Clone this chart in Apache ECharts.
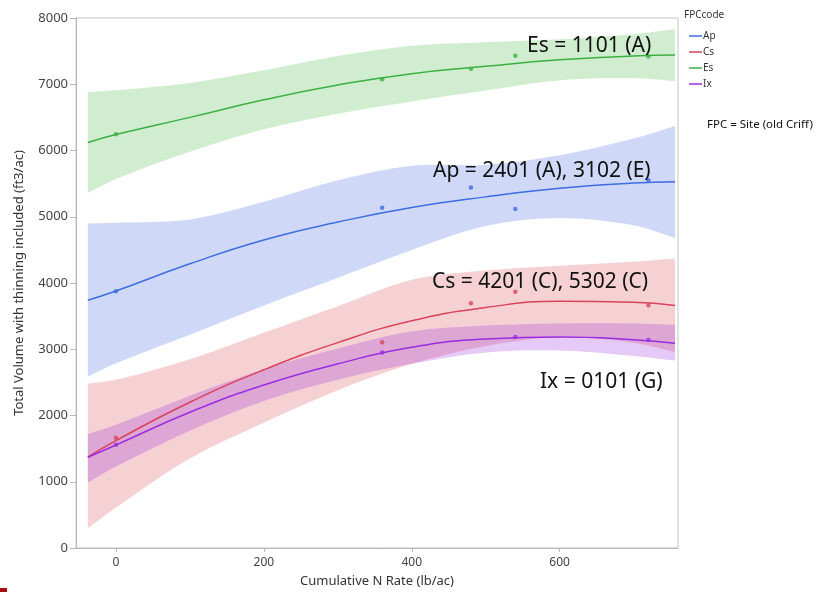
<!DOCTYPE html>
<html>
<head>
<meta charset="utf-8">
<script src="https://cdn.jsdelivr.net/npm/echarts@6.0.0/dist/echarts.min.js"></script>
<style>
  html, body { margin: 0; padding: 0; background: #fff; }
  #chart { width: 819px; height: 592px; }
</style>
</head>
<body>
<div id="chart"></div>
<script>
// x positions where the fitted curves / bands were read
const fitX = [-38, 0, 100, 200, 300, 400, 500, 600, 700, 756];

// Ap
const apFit  = [3740, 3880, 4290, 4650, 4920, 5140, 5300, 5430, 5510, 5530];
const apHigh = [4900, 4910, 4960, 5225, 5550, 5770, 5785, 5930, 6180, 6370];
const apLow  = [2590, 2790, 3220, 3660, 4080, 4500, 4860, 4980, 4870, 4680];
const apX = [0, 360, 480, 540, 720];
const apY = [3875, 5135, 5440, 5117, 5550];

// Cs
const csFit  = [1370, 1620, 2200, 2690, 3100, 3430, 3630, 3725, 3710, 3660];
const csHigh = [2480, 2540, 2850, 3250, 3650, 4050, 4190, 4260, 4320, 4370];
const csLow  = [300, 610, 1350, 1890, 2380, 2780, 3050, 3180, 3100, 2960];
const csX = [0, 360, 480, 540, 720];
const csY = [1665, 3105, 3693, 3869, 3663];

// Es
const esFit  = [6120, 6240, 6500, 6765, 6990, 7160, 7270, 7370, 7425, 7440];
const esHigh = [6880, 6910, 7020, 7210, 7425, 7580, 7635, 7680, 7755, 7835];
const esLow  = [5360, 5570, 5980, 6320, 6555, 6740, 6905, 7060, 7095, 7045];
const esX = [0, 360, 480, 540, 720];
const esY = [6245, 7075, 7235, 7430, 7420];

// Ix
const ixFit  = [1370, 1555, 2050, 2460, 2780, 3030, 3155, 3185, 3145, 3090];
const ixHigh = [1720, 1860, 2300, 2700, 3010, 3270, 3360, 3390, 3390, 3370];
const ixLow  = [990, 1230, 1770, 2220, 2540, 2780, 2950, 2980, 2900, 2830];
const ixX = [0, 360, 540, 720];
const ixY = [1560, 2950, 3185, 3140];

const xTicks = [0, 200, 400, 600];

const groups = [
  { name: 'Es', fit: esFit, high: esHigh, low: esLow, px: esX, py: esY, line: '#3cb043', band: 'rgba(60,180,60,0.24)' },
  { name: 'Ap', fit: apFit, high: apHigh, low: apLow, px: apX, py: apY, line: '#3d6de0', band: 'rgba(65,105,225,0.25)' },
  { name: 'Cs', fit: csFit, high: csHigh, low: csLow, px: csX, py: csY, line: '#d9435b', band: 'rgba(220,70,85,0.25)' },
  { name: 'Ix', fit: ixFit, high: ixHigh, low: ixLow, px: ixX, py: ixY, line: '#9a2de0', band: 'rgba(150,40,220,0.25)' }
];

function pairs(xs, ys) {
  return xs.map((x, i) => [x, ys[i]]);
}

// confidence band as one smoothed polygon (upper edge, then lower edge back)
function bandRenderer(g) {
  return function (params, api) {
    if (params.dataIndex !== 0) return null;
    const n = fitX.length;
    const top = [], bot = [];
    for (let i = 0; i < n; i++) {
      top.push(api.coord([fitX[i], g.high[i]]));
      bot.push(api.coord([fitX[i], g.low[i]]));
    }
    bot.reverse();
    // corners doubled so the ends stay straight
    const pts = [top[0]].concat(top, [top[n - 1]], [bot[0]], bot, [bot[n - 1]]);
    return {
      type: 'polygon',
      shape: { points: pts, smooth: 0.33 },
      style: { fill: g.band }
    };
  };
}

const series = [];
groups.forEach(g => {
  series.push({
    type: 'custom', name: g.name + '_band', silent: true, z: 1,
    data: fitX.map((x, i) => [x, g.low[i], g.high[i]]),
    encode: { x: 0, y: [1, 2] },
    renderItem: bandRenderer(g)
  });
});
groups.forEach(g => {
  series.push({
    type: 'line', name: g.name, smooth: true, data: pairs(fitX, g.fit),
    symbol: 'none', color: g.line, lineStyle: { color: g.line, width: 1.5 }, z: 3
  });
  series.push({
    type: 'scatter', name: g.name + '_pts', data: pairs(g.px, g.py),
    symbolSize: 4.5, itemStyle: { color: g.line }, z: 4
  });
});

const chart = echarts.init(document.getElementById('chart'));
chart.setOption({
  animation: false,
  grid: { left: 76, right: 141, top: 18, bottom: 44, outerBoundsMode: 'none',
          show: true, borderColor: '#c4c4c4', borderWidth: 1 },
  legend: {
    data: ['Ap', 'Cs', 'Es', 'Ix'].map(n => ({ name: n, icon: 'rect' })),
    orient: 'vertical', left: 684, top: 25,
    itemWidth: 13, itemHeight: 1.5, itemGap: 4,
    textStyle: { fontFamily: 'Noto Sans', fontSize: 10, color: '#333', lineHeight: 12, padding: [0, 0, 0, -4] }
  },
  xAxis: {
    type: 'value', min: -54, max: 760,
    name: 'Cumulative N Rate (lb/ac)', nameLocation: 'middle', nameGap: 27,
    nameTextStyle: { fontFamily: 'Noto Sans', fontSize: 13, color: '#333' },
    axisLine: { show: true, onZero: false, lineStyle: { color: '#b8b8b8' } },
    axisTick: { show: true, customValues: xTicks, length: 4, lineStyle: { color: '#b8b8b8' } },
    axisLabel: { customValues: xTicks, margin: 9, fontFamily: 'Noto Sans', fontSize: 12, color: '#444' },
    splitLine: { show: false }
  },
  yAxis: {
    type: 'value', min: 0, max: 8000, interval: 1000,
    name: 'Total Volume with thinning included (ft3/ac)', nameLocation: 'middle', nameGap: 50,
    nameTextStyle: { fontFamily: 'Noto Sans', fontSize: 13, color: '#333' },
    axisLine: { show: true, onZero: false, lineStyle: { color: '#b8b8b8' } },
    axisTick: { show: true, length: 6, lineStyle: { color: '#b8b8b8' } },
    axisLabel: { margin: 8, fontFamily: 'Noto Sans', fontSize: 13, color: '#444', formatter: v => String(v) },
    splitLine: { show: false }
  },
  graphic: [
    { type: 'text', left: 684, top: 10, style: { text: 'FPCcode', font: '10px "Noto Sans"', fill: '#333' } },
    { type: 'text', left: 707, top: 119, style: { text: 'FPC = Site (old Criff)', font: '11.5px "Noto Sans"', fill: '#111' } },
    { type: 'text', x: 527, y: 46, style: { text: 'Es = 1101 (A)', font: '21px "Noto Sans"', fill: '#111', textVerticalAlign: 'middle' }, z: 10 },
    { type: 'text', x: 433, y: 171, style: { text: 'Ap = 2401 (A), 3102 (E)', font: '21px "Noto Sans"', fill: '#111', textVerticalAlign: 'middle' }, z: 10 },
    { type: 'text', x: 432, y: 282, style: { text: 'Cs = 4201 (C), 5302 (C)', font: '21px "Noto Sans"', fill: '#111', textVerticalAlign: 'middle' }, z: 10 },
    { type: 'text', x: 540, y: 382, style: { text: 'Ix = 0101 (G)', font: '21px "Noto Sans"', fill: '#111', textVerticalAlign: 'middle' }, z: 10 },
    { type: 'rect', shape: { x: 0, y: 588, width: 7, height: 4 }, style: { fill: '#a50d0d' } }
  ],
  series: series
});
</script>
</body>
</html>
